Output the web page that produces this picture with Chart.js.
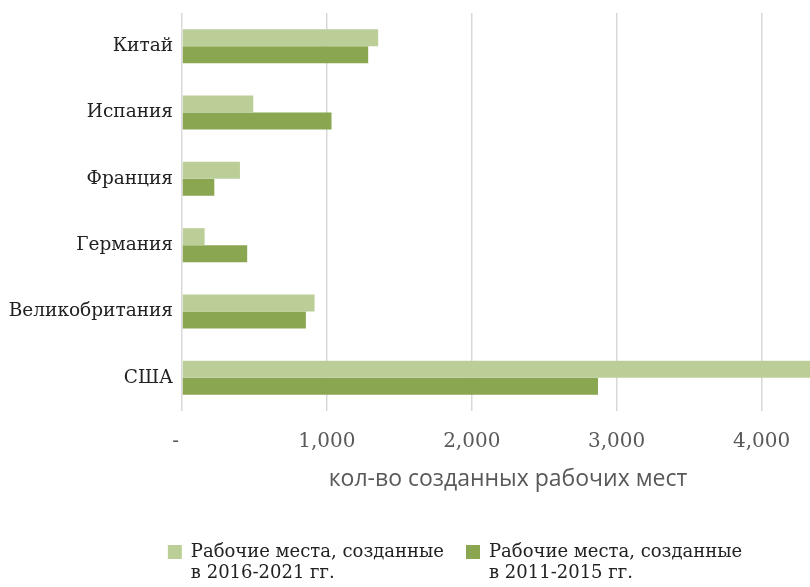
<!DOCTYPE html>
<html lang="ru">
<head>
<meta charset="utf-8">
<title>Созданные рабочие места по странам</title>
<script src="https://cdn.jsdelivr.net/npm/chart.js@4.4.1/dist/chart.umd.min.js"></script>
<style>
  html, body { margin: 0; padding: 0; background: #ffffff; overflow: hidden; }
  #frame { width: 810px; height: 587px; overflow: hidden; }
  canvas { display: block; }
</style>
</head>
<body>
<div id="frame"><canvas id="chart" width="910" height="587"></canvas></div>
<script>
// Countries, listed top to bottom
const countries = ['Китай', 'Испания', 'Франция', 'Германия', 'Великобритания', 'США'];

// Jobs created per period
const jobs2016to2021 = [1354, 492, 400, 156, 915, 4400];
const jobs2011to2015 = [1285, 1032, 223, 450, 855, 2871];

// Legend texts (two lines each)
const seriesLabels = [
  ['Рабочие места, созданные', 'в 2016-2021 гг.'],
  ['Рабочие места, созданные', 'в 2011-2015 гг.']
];

// Value axis ticks and caption
const axisTicks = [0, 1000, 2000, 3000, 4000];
const axisTitle = 'кол-во созданных рабочих мест';

const LIGHT_GREEN = '#bbce98';
const DARK_GREEN = '#8aa650';
const SERIF = "'DejaVu Serif', 'Liberation Serif', serif";
const SANS = "'Open Sans', 'Noto Sans', sans-serif";

// The legend sizes an item from the string form of its text; for a
// two-line label that string should be its longest line.
function multiLineLabel(lines) {
  const label = lines.slice();
  const longest = lines.reduce((a, b) => (a.length >= b.length ? a : b));
  label.toString = () => longest;
  return label;
}

// The legend box is one text line high, so the second line of each
// label would be clipped; stretch the box down to the canvas bottom.
const legendRoom = {
  id: 'legendRoom',
  afterLayout(chart) {
    const legend = chart.legend;
    if (legend) {
      legend.bottom = chart.height;
      legend.height = legend.bottom - legend.top;
    }
  }
};

new Chart(document.getElementById('chart'), {
  type: 'bar',
  data: {
    labels: countries,
    datasets: [
      {
        label: multiLineLabel(seriesLabels[0]),
        data: jobs2016to2021,
        backgroundColor: LIGHT_GREEN,
        categoryPercentage: 0.513,
        barPercentage: 1
      },
      {
        label: multiLineLabel(seriesLabels[1]),
        data: jobs2011to2015,
        backgroundColor: DARK_GREEN,
        categoryPercentage: 0.513,
        barPercentage: 1
      }
    ]
  },
  plugins: [legendRoom],
  options: {
    indexAxis: 'y',
    responsive: false,
    animation: false,
    layout: { padding: { left: 0, top: 13, right: 0, bottom: 16 } },
    scales: {
      x: {
        min: 0,
        max: 4500,
        afterBuildTicks: (scale) => { scale.ticks = axisTicks.map(v => ({ value: v })); },
        afterFit: (scale) => { scale.height = 110; },
        grid: { color: '#d9d9d9', lineWidth: 1.5, drawTicks: false },
        border: { display: false },
        ticks: {
          color: '#595959',
          font: { family: SERIF, size: 20 },
          padding: 19,
          maxRotation: 0,
          callback: (v) => v === 0 ? '-  ' : Number(v).toLocaleString('en-US')
        },
        title: {
          display: true,
          text: axisTitle,
          color: '#595959',
          font: { family: SANS, size: 23 },
          padding: { top: 0, bottom: 28 }
        }
      },
      y: {
        afterFit: (scale) => {
          scale.width = 182;
          // category labels sit inside their bands; no extra room above or below the plot
          scale.paddingTop = 0;
          scale.paddingBottom = 0;
        },
        grid: { display: false, drawTicks: false },
        border: { display: false },
        ticks: {
          color: '#222222',
          font: { family: SERIF, size: 18.5 },
          padding: 9
        }
      },
      // empty margin to the right of the plot area
      margin: {
        type: 'category',
        position: 'right',
        afterFit: (scale) => { scale.width = 76; },
        grid: { display: false, drawTicks: false },
        border: { display: false },
        ticks: { display: false }
      }
    },
    plugins: {
      legend: {
        position: 'bottom',
        labels: {
          boxWidth: 14,
          boxHeight: 14,
          padding: 22,
          color: '#222222',
          font: { family: SERIF, size: 18, lineHeight: 1.2 }
        }
      },
      tooltip: { enabled: false }
    }
  }
});
</script>
</body>
</html>
